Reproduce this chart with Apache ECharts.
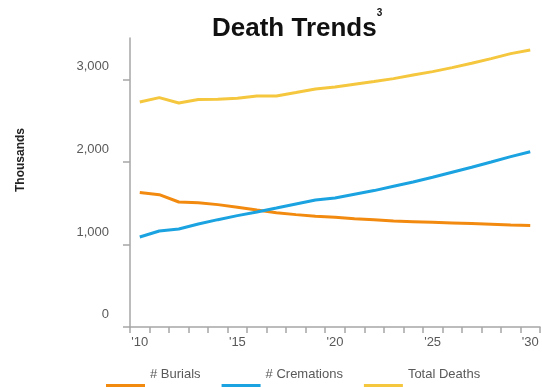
<!DOCTYPE html>
<html>
<head>
<meta charset="utf-8">
<script src="https://cdn.jsdelivr.net/npm/echarts@6/dist/echarts.min.js"></script>
<style>html,body{margin:0;padding:0;background:#fff;}#c{width:542px;height:387px;}</style>
</head>
<body>
<div id="c"></div>
<script>
const categories = ["'10","'11","'12","'13","'14","'15","'16","'17","'18","'19","'20","'21","'22","'23","'24","'25","'26","'27","'28","'29","'30"];
const burials = [1628,1603,1514,1506,1482,1450,1417,1385,1361,1341,1329,1312,1300,1284,1276,1268,1260,1252,1244,1235,1228];
const cremations = [1090,1163,1187,1247,1300,1349,1393,1441,1490,1538,1562,1607,1652,1704,1756,1813,1874,1934,1998,2063,2122];
const totalDeaths = [2725,2778,2713,2754,2758,2770,2798,2798,2839,2883,2906,2939,2972,3008,3052,3093,3141,3194,3250,3311,3355];
const yTicks = [0,1000,2000,3000];

const textGray = '#595959';
const axisGray = '#a6a6a6';
const chart = echarts.init(document.getElementById('c'), null, {renderer:'canvas'});
chart.setOption({
  animation: false,
  backgroundColor: '#ffffff',
  title: {
    text: '{a|Death Trends}{b|3}',
    left: 207, top: 3,
    textStyle: {
      rich: {
        a: {fontFamily: 'Liberation Sans', fontWeight: 'bold', fontSize: 26, color: '#111'},
        b: {fontFamily: 'Liberation Sans', fontSize: 10, color: '#111', padding: [0,0,31,0]}
      }
    }
  },
  legend: {
    left: 106, top: 368, padding: 0,
    itemWidth: 39, itemHeight: 8, itemGap: 21, icon: 'rect',
    formatter: name => '{t|' + name + '}',
    textStyle: {fontFamily: 'Liberation Sans', fontSize: 13, color: textGray,
      rich: {t: {fontFamily: 'Liberation Sans', fontSize: 13, color: textGray, padding: [0,0,27,0]}}},
    data: ['# Burials', '# Cremations', 'Total Deaths']
  },
  grid: {left: 130, right: 2, top: 38, bottom: 60, containLabel: false},
  xAxis: {
    type: 'category', data: categories, boundaryGap: true,
    axisLine: {lineStyle: {color: axisGray, width: 1.5}},
    axisTick: {show: true, interval: 0, length: 6, lineStyle: {color: axisGray, width: 1.5}},
    axisLabel: {interval: 4, margin: 9, fontFamily: 'Liberation Sans', fontSize: 13, color: textGray}
  },
  yAxis: {
    type: 'value', min: 0, max: 3500,
    splitLine: {show: false},
    axisLine: {show: true, lineStyle: {color: axisGray, width: 1.5}},
    axisTick: {show: true, length: 7, customValues: yTicks, lineStyle: {color: axisGray, width: 1.5}},
    axisLabel: {customValues: yTicks, margin: 21, fontFamily: 'Liberation Sans', fontSize: 13, color: textGray,
      verticalAlign: 'bottom', padding: [0,0,6,0],
      formatter: v => v.toLocaleString('en-US')}
  },
  graphic: [{
    type: 'text', x: 20.5, y: 160, rotation: Math.PI/2,
    style: {text: 'Thousands', fontFamily: 'Liberation Sans', fontWeight: 'bold', fontSize: 12, fill: '#222', align: 'center', verticalAlign: 'middle'}
  }],
  series: [
    {name: '# Burials', type: 'line', data: burials, showSymbol: false, symbol: 'none', lineStyle: {width: 3, color: '#F28A10'}, itemStyle: {color: '#F28A10'}},
    {name: '# Cremations', type: 'line', data: cremations, showSymbol: false, symbol: 'none', lineStyle: {width: 3, color: '#1AA3E0'}, itemStyle: {color: '#1AA3E0'}},
    {name: 'Total Deaths', type: 'line', data: totalDeaths, showSymbol: false, symbol: 'none', lineStyle: {width: 3, color: '#F5C73E'}, itemStyle: {color: '#F5C73E'}}
  ]
});
</script>
</body>
</html>
